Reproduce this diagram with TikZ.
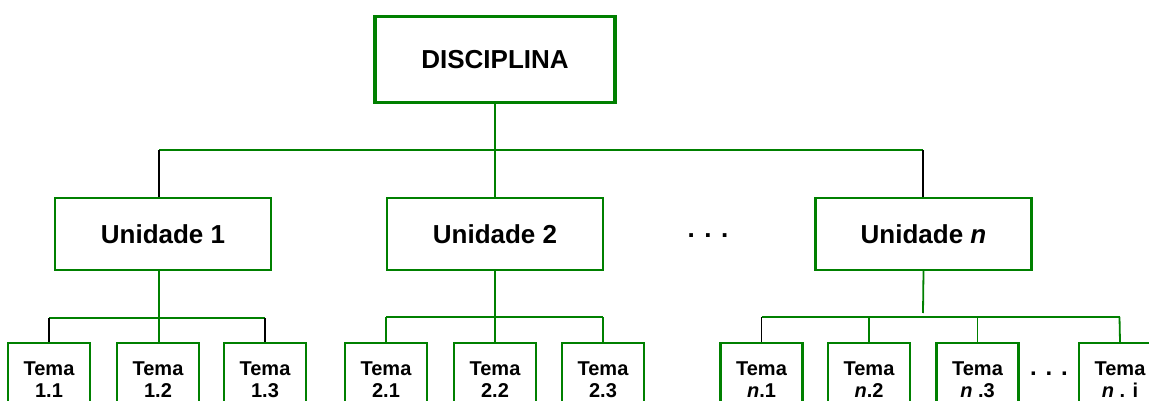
\documentclass[tikz,border=0pt]{standalone}
\usepackage{fontspec}
\setmainfont{Liberation Sans}
\definecolor{tree}{RGB}{0,128,0}
\begin{document}
\begin{tikzpicture}[x=1pt,y=-1pt,
  box/.style={draw=tree,line width=2.2pt,fill=white,inner sep=0pt,align=center,
              font=\fontsize{26}{30}\selectfont\bfseries},
  rootbox/.style={box,line width=3.5pt,minimum width=240pt,minimum height=86pt},
  unitbox/.style={box,minimum width=216pt,minimum height=72pt},
  topicbox/.style={box,minimum width=82pt,minimum height=74pt,anchor=north,
                   font=\fontsize{20}{22}\selectfont\bfseries},
  link/.style={draw=tree,line width=1.8pt},
  drop/.style={draw=black,line width=1.8pt},
  gap/.style={font=\fontsize{26}{30}\selectfont\bfseries}]
\clip (0,0) rectangle (1149,401);
\useasboundingbox (0,0) rectangle (1149,401);

% top level
\node[rootbox] (root) at (495,59.5) {DISCIPLINA};

% units
\node[unitbox] (u1) at (163,234) {Unidade 1};
\node[unitbox] (u2) at (495,234) {Unidade 2};
\node[unitbox] (un) at (923.5,234) {Unidade \textit{n}};
\node[gap] (udots) at (708,236) {. . .};

% bus between root and units
\coordinate (ubL) at (159,150);
\coordinate (ubR) at (923,150);
\draw[link] (root.south) -- (u2.north);
\draw[link] (ubL) -- (ubR);
\draw[drop] (ubL) -- (ubL |- u1.north);
\draw[drop] (ubR) -- (ubR |- un.north);

% topics of unit 1
\node[topicbox] (t11) at (49,342) {Tema\\1.1};
\node[topicbox] (t12) at (158,342) {Tema\\1.2};
\node[topicbox] (t13) at (265,342) {Tema\\1.3};
\coordinate (b1L) at (49,318);
\coordinate (b1R) at (265,318);
\coordinate (b1M) at (159,318);
\draw[link] (b1M |- u1.south) -- (b1M |- t12.north);
\draw[link] (b1L) -- (b1R);
\draw[drop] (b1L) -- (t11.north);
\draw[drop] (b1R) -- (t13.north);

% topics of unit 2
\node[topicbox] (t21) at (386,342) {Tema\\2.1};
\node[topicbox] (t22) at (495,342) {Tema\\2.2};
\node[topicbox] (t23) at (603,342) {Tema\\2.3};
\coordinate (b2L) at (386,317);
\coordinate (b2R) at (603,317);
\draw[link] (u2.south) -- (t22.north);
\draw[link] (b2L) -- (b2R);
\draw[link] (b2L) -- (t21.north);
\draw[link] (b2R) -- (t23.north);

% topics of unit n
\node[topicbox] (tn1) at (761.5,342) {Tema\\\textit{n}.1};
\node[topicbox] (tn2) at (869,342) {Tema\\\textit{n}.2};
\node[topicbox] (tn3) at (977.5,342) {Tema\\\textit{n} .3};
\node[topicbox] (tni) at (1120,342) {Tema\\\textit{n} . i};
\node[gap,font=\fontsize{24}{28}\selectfont\bfseries] (tdots) at (1049,374) {. . .};
\coordinate (bnL) at (761.5,317);
\coordinate (bnR) at (1119.5,317);
\coordinate (bnT) at (923,313);
\draw[link] (un.south) -- (bnT);
\draw[link] (bnL) -- (bnR);
\draw[drop] (bnL) -- (tn1.north);
\draw[link] (tn2.north |- bnL) -- (tn2.north);
\draw[link] (tn3.north |- bnL) -- (tn3.north);
\draw[link] (bnR) -- (tni.north);
\end{tikzpicture}
\end{document}
